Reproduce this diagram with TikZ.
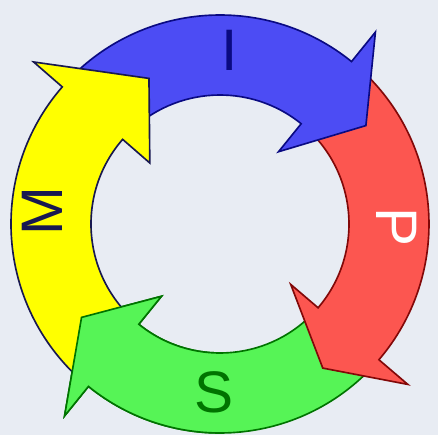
\documentclass[tikz,border=0pt]{standalone}
\usepackage{fontspec}
\setmainfont{Liberation Sans}
\usepackage{tikz}
\usepackage{xcolor}
\usetikzlibrary{calc}
\definecolor{CycleBack}{RGB}{232,236,243}
\definecolor{CycleBlue}{RGB}{76,76,244}
\definecolor{CycleBlueLine}{RGB}{10,10,130}
\definecolor{CycleRed}{RGB}{252,86,80}
\definecolor{CycleRedLine}{RGB}{130,8,8}
\definecolor{CycleGreen}{RGB}{86,244,86}
\definecolor{CycleGreenLine}{RGB}{0,115,0}
\definecolor{CycleYellow}{RGB}{255,255,0}
\definecolor{CycleYellowLine}{RGB}{24,24,80}
\tikzset{
    % Arrow body styles
    bluearrow/.style={
        draw=CycleBlueLine,
        fill=CycleBlue,
        line width=1.4pt,
        line join=miter
    },
    redarrow/.style={
        draw=CycleRedLine,
        fill=CycleRed,
        line width=1.4pt,
        line join=miter
    },
    greenarrow/.style={
        draw=CycleGreenLine,
        fill=CycleGreen,
        line width=1.4pt,
        line join=miter
    },
    yellowarrow/.style={
        draw=CycleYellowLine,
        fill=CycleYellow,
        line width=1.4pt,
        line join=miter
    },
    % Letter style
    ringletter/.style={
        inner sep=0pt,
        font=\fontsize{50}{50}\selectfont
    }
}
% ring radii and barb radii
\newcommand{\outerR}{209}
\newcommand{\innerR}{129}
\newcommand{\barbout}{247}
\newcommand{\barbin}{93}
% #1 style, #2 tail angle, #3 head base angle, #4 tip angle, #5 tip radius
\newcommand{\ringarrow}[5]{%
    \draw[#1] (#2:\outerR) arc[start angle=#2, end angle=#3, radius=\outerR]
        -- (#3:\barbout) -- (#4:#5) -- (#3:\barbin) -- (#3:\innerR)
        arc[start angle=#3, end angle=#2, radius=\innerR] -- cycle;}

\begin{document}
\begin{tikzpicture}[x=0.03cm, y=0.03cm]
    % Background
    \fill[CycleBack] (-220,-211) rectangle (218,224);
    \useasboundingbox (-220,-211) rectangle (218,224);

    % Arrows, each head over the next tail
    \ringarrow{greenarrow}{-44.5}{-129}{-146}{167}
    \ringarrow{redarrow}{47}{-40.5}{-54.5}{177}
    \ringarrow{bluearrow}{135}{51}{34}{176}
    \ringarrow{yellowarrow}{227}{139}{116}{162}

    % Green head again, over the yellow tail
    \begin{scope}
        \clip (-260,-260) rectangle (0,0);
        \ringarrow{greenarrow}{-44.5}{-129}{-146}{167}
    \end{scope}

    % Letters
    \node[ringletter, text=CycleBlueLine] (letterI) at (10,174) {I};
    \node[ringletter, text=white, rotate=-90] (letterP) at (177,-3) {P};
    \node[ringletter, text=CycleGreenLine] (letterS) at (-6,-168) {S};
    \node[ringletter, text=CycleYellowLine, rotate=90] (letterM) at (-178,13) {M};
\end{tikzpicture}
\end{document}
